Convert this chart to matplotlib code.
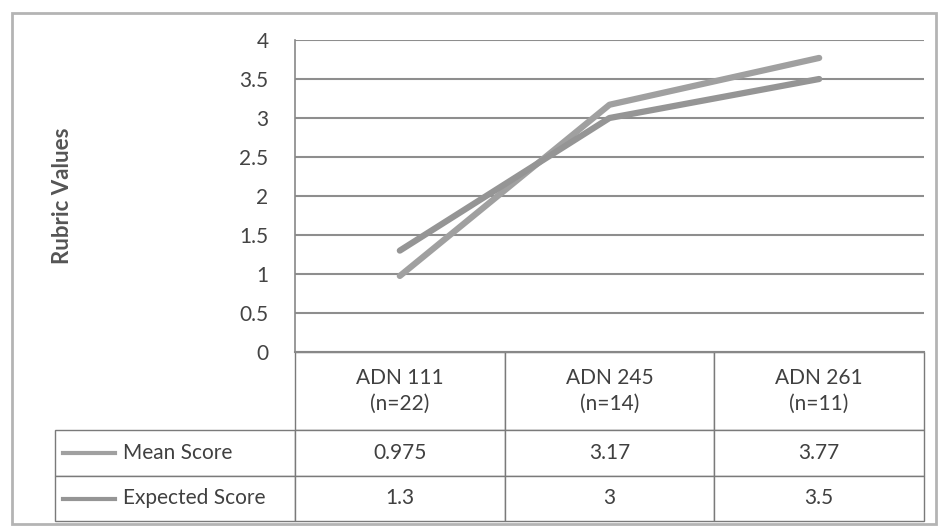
import matplotlib
matplotlib.use("Agg")
import matplotlib.pyplot as plt
from matplotlib.patches import Rectangle
import numpy as np

courses = ['ADN 111\n(n=22)', 'ADN 245\n(n=14)', 'ADN 261\n(n=11)']
series_names = ['Mean Score', 'Expected Score']
mean_score = [0.975, 3.17, 3.77]
expected_score = [1.3, 3, 3.5]
y_ticks = [0, 0.5, 1, 1.5, 2, 2.5, 3, 3.5, 4]

plt.rcParams['font.family'] = ['Lato', 'DejaVu Sans']

W, H = 939, 527
fig = plt.figure(figsize=(W / 100, H / 100), dpi=100)

# chart border
fig.patches.append(Rectangle((12 / W, 3 / H), (936 - 12) / W, (527 - 16) / H,
                             transform=fig.transFigure, fill=False,
                             edgecolor='#b4b4b4', lw=2))

AX_W, AX_H = 629, 312  # plot area in pixels
ax = fig.add_axes([295 / W, (H - 352) / H, AX_W / W, AX_H / H])

line_colors = ['#a0a0a0', '#959595']
x = np.arange(len(courses))
for vals, col in zip([mean_score, expected_score], line_colors):
    ax.plot(x, vals, color=col, lw=4.5, solid_capstyle='round', zorder=3)

ax.set_xlim(-0.5, len(courses) - 0.5)
ax.set_ylim(0, 4)
ax.set_yticks(y_ticks)
ax.set_yticklabels([f'{t:g}' for t in y_ticks])
ax.set_xticks([])
ax.yaxis.grid(True, color='#8e8e8e', lw=1.5)
ax.set_axisbelow(True)
ax.tick_params(axis='y', length=0, pad=19, labelsize=15, labelcolor='#444444')
for s in ['top', 'right']:
    ax.spines[s].set_visible(False)
ax.spines['left'].set_color('#888888')
ax.spines['bottom'].set_color('#888888')
ax.spines['left'].set_linewidth(1.2)
ax.spines['bottom'].set_linewidth(1.5)

ax.set_ylabel('Rubric Values', fontsize=16, fontweight='bold', color='#555555')
ax.yaxis.set_label_coords((73 - 295) / AX_W, 0.5)

# data table hanging under the plot, sizes in axes units
cell_text = [[f'{v:g}' for v in mean_score], [f'{v:g}' for v in expected_score]]
tbl = ax.table(cellText=cell_text, rowLabels=series_names, colLabels=courses,
               cellLoc='center', rowLoc='left', loc='bottom')
tbl._autoColumns = []  # keep the fixed row-label width
tbl.auto_set_font_size(False)
tbl.set_fontsize(15)
row_heights = {0: 78, 1: 46, 2: 45}
for (r, c), cell in tbl.get_celld().items():
    cell.set_height(row_heights[r] / AX_H)
    cell.set_width((240 if c == -1 else AX_W / 3) / AX_W)
    cell.set_edgecolor('#7a7a7a')
    cell.set_linewidth(1.0)
    cell.get_text().set_color('#404040')
    cell.get_text().set_linespacing(1.35)
    if c == -1:
        cell.PAD = 68 / 240

# legend keys in the row label cells
for i, col in enumerate(line_colors):
    yc = (352 - (453 + 45.5 * i)) / AX_H
    ax.plot([(63 - 295) / AX_W, (115 - 295) / AX_W], [yc, yc], color=col, lw=3,
            transform=ax.transAxes, clip_on=False)

fig.savefig('out.png', dpi=100)
